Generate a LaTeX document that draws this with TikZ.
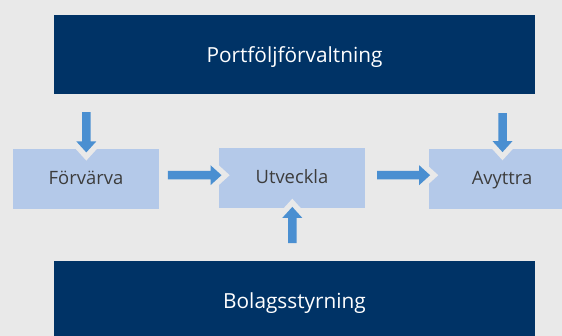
\documentclass[tikz,border=0pt]{standalone}
\usepackage{fontspec}
\setmainfont{Open Sans}
\usetikzlibrary{calc}
\definecolor{bgc}{HTML}{E9E9E9}
\definecolor{navy}{HTML}{003366}
\definecolor{boxblue}{HTML}{B4C9E9}
\definecolor{arrowblue}{HTML}{4A8FD1}
\definecolor{textgray}{HTML}{3C3C3C}
\tikzset{
  bigbox/.style={rectangle, fill=navy, text=white, minimum width=481pt, minimum height=79.5pt,
    inner sep=0pt, font=\fontsize{20.8pt}{24pt}\selectfont, text height=14.85pt, text depth=0pt},
  stepbox/.style={rectangle, fill=boxblue, text=textgray, minimum width=146pt, minimum height=60pt,
    inner sep=0pt, font=\fontsize{18.4pt}{22pt}\selectfont, text height=13.1pt, text depth=2pt},
  arrowbody/.style={fill=arrowblue, preaction={draw=bgc, line width=11pt, line join=miter}}
}
\newcommand\blockarrow[2]{%
  \coordinate (hb) at ($(#2)!11pt!(#1)$);
  \path[arrowbody]
    ($(#1)!4.25pt!90:(#2)$) -- ($(hb)!4.25pt!90:(#2)$) -- ($(hb)!10pt!90:(#2)$) -- (#2)
    -- ($(hb)!10pt!-90:(#2)$) -- ($(hb)!4.25pt!-90:(#2)$) -- ($(#1)!4.25pt!-90:(#2)$) -- cycle;
}
\begin{document}
\begin{tikzpicture}[x=1pt, y=-1pt]
  \fill[bgc] (0,0) rectangle (562,336);
  \useasboundingbox (0,0) rectangle (562,336);
  \begin{scope}
  \clip (0,0) rectangle (562,336);
  \node[bigbox] (top) at (294.5,54.75) {Portföljförvaltning};
  \node[bigbox] (bot) at (294.5,300.75) {Bolagsstyrning};
  \node[stepbox] (forv) at (86,178.6) {Förvärva};
  \node[stepbox] (utv) at (292,178.2) {Utveckla};
  \node[stepbox] (avy) at (502,178.8) {Avyttra};

  \coordinate (a1s) at ($(top.south -| forv.north)+(0.3,17.5)$);
  \coordinate (a1t) at ($(forv.north)+(0.3,4)$);
  \coordinate (a2s) at ($(top.south -| avy.north)+(0.5,18.5)$);
  \coordinate (a2t) at ($(avy.north)+(0.5,3.5)$);
  \coordinate (a3s) at ($(forv.east)+(8.7,-3.4)$);
  \coordinate (a3t) at ($(utv.west)+(2.7,-3)$);
  \coordinate (a4s) at ($(utv.east)+(12,-3)$);
  \coordinate (a4t) at ($(avy.west)+(1.3,-3.6)$);
  \coordinate (a5s) at ($(bot.north -| utv.south)+(0.3,-17.7)$);
  \coordinate (a5t) at ($(utv.south)+(0.3,-1.5)$);

  \blockarrow{a1s}{a1t}
  \blockarrow{a2s}{a2t}
  \blockarrow{a3s}{a3t}
  \blockarrow{a4s}{a4t}
  \blockarrow{a5s}{a5t}
  \end{scope}
\end{tikzpicture}
\end{document}
